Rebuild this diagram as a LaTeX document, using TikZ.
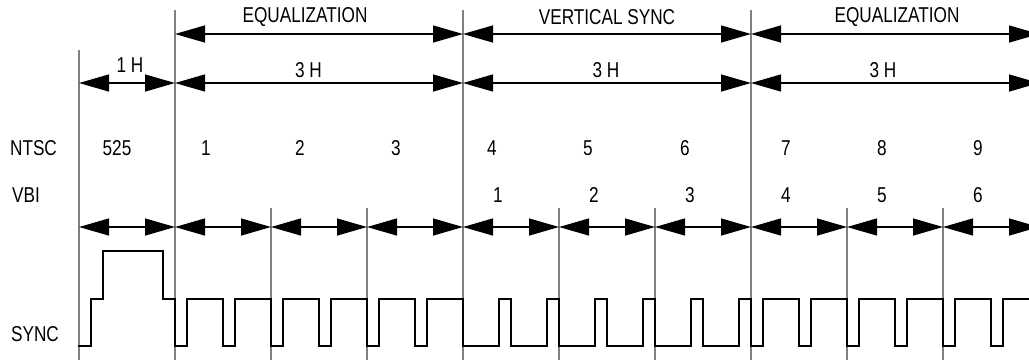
\documentclass[tikz,border=0pt]{standalone}
\usepackage{fontspec}
\setmainfont{Liberation Sans}[FakeStretch=0.8]
\usetikzlibrary{arrows.meta}
\definecolor{vline}{RGB}{128,128,128}
\tikzset{
  lbl/.style={inner sep=0pt, font=\fontsize{21.5}{25}\selectfont},
  dim/.style={line width=1.3pt, {Triangle[length=30pt,width=17pt]}-{Triangle[length=30pt,width=17pt]}},
  gridline/.style={draw=vline, line width=1.1pt},
  wave/.style={line width=1.3pt, line join=miter}
}
\begin{document}
\begin{tikzpicture}[x=1pt,y=-1pt]
\useasboundingbox (0,0) rectangle (1029,360);
\clip (0,0) rectangle (1029,360);
% vertical division lines
\draw[gridline] (79,50) -- (79,360);
\foreach \i in {1,4,7} { \draw[gridline] (79+96*\i,10) -- (79+96*\i,360); }
\foreach \i in {2,3,5,6,8,9} { \draw[gridline] (79+96*\i,208) -- (79+96*\i,360); }
% coordinates for dimension arrows
\foreach \i in {0,...,10} {
  \coordinate (a\i) at (79+96*\i,34);
  \coordinate (b\i) at (79+96*\i,83);
  \coordinate (c\i) at (79+96*\i,227);
}
% top row
\draw[dim] (a1) -- (a4);
\draw[dim] (a4) -- (a7);
\draw[dim] (a7) -- (a10);
% second row
\draw[dim] (b0) -- (b1);
\draw[dim] (b1) -- (b4);
\draw[dim] (b4) -- (b7);
\draw[dim] (b7) -- (b10);
% half-line row
\foreach \i [evaluate=\i as \j using int(\i+1)] in {0,...,9} { \draw[dim] (c\i) -- (c\j); }
% labels
\node[lbl] (eq1) at (305,17) {EQUALIZATION};
\node[lbl] (vs) at (607,17) {VERTICAL SYNC};
\node[lbl] (eq2) at (897,17) {EQUALIZATION};
\node[lbl] (h1) at (130,65) {1 H};
\node[lbl] (h3a) at (308.5,70) {3 H};
\node[lbl] (h3b) at (606,70) {3 H};
\node[lbl] (h3c) at (883,70) {3 H};
\node[lbl] (ntsc) at (33.5,148) {NTSC};
\node[lbl] (vbi) at (26,195.5) {VBI};
\node[lbl] (sync) at (35,334) {SYNC};
\node[lbl] (n525) at (117,148) {525};
\node[lbl] (n1) at (206,148) {1};
\node[lbl] (n2) at (300,148) {2};
\node[lbl] (n3) at (396,148) {3};
\node[lbl] (n4) at (492,148) {4};
\node[lbl] (n5) at (588,148) {5};
\node[lbl] (n6) at (685,148) {6};
\node[lbl] (n7) at (786,148) {7};
\node[lbl] (n8) at (882,148) {8};
\node[lbl] (n9) at (978,148) {9};
\node[lbl] (v1) at (498,195) {1};
\node[lbl] (v2) at (594,195) {2};
\node[lbl] (v3) at (690,195) {3};
\node[lbl] (v4) at (786,195) {4};
\node[lbl] (v5) at (882,195) {5};
\node[lbl] (v6) at (978,195) {6};
% sync waveform
\draw[wave] (78,346) -- (91,346) -- (91,299) -- (103,299) -- (103,251) -- (163,251) -- (163,299) -- (175,299) -- (175,346)
  foreach \s in {175,223,...,415} { -- (\s+12,346) -- (\s+12,299) -- (\s+48,299) -- (\s+48,346) }
  foreach \s in {463,511,...,703} { -- (\s+36,346) -- (\s+36,299) -- (\s+48,299) -- (\s+48,346) }
  foreach \s in {751,799,...,991} { -- (\s+12,346) -- (\s+12,299) -- (\s+48,299) -- (\s+48,346) };
\end{tikzpicture}
\end{document}
